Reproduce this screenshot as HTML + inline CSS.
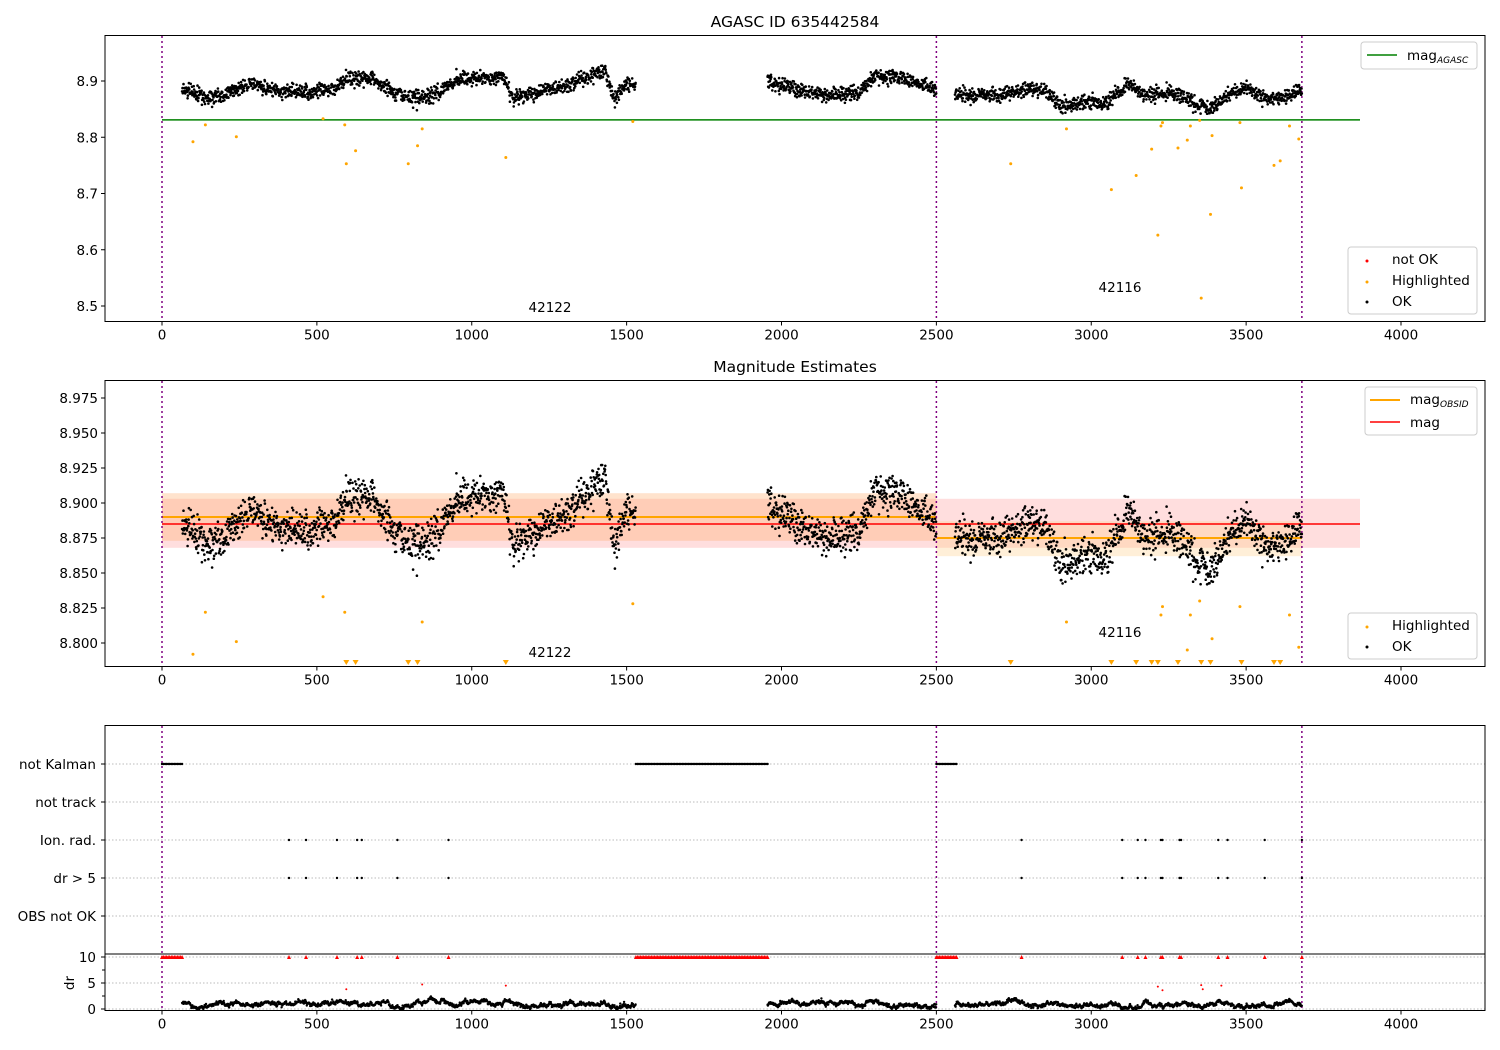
<!DOCTYPE html>
<html><head><meta charset="utf-8"><style>
body{margin:0;background:#fff}
svg{display:block;font-family:"DejaVu Sans","Liberation Sans",sans-serif}
</style></head><body>
<svg id="s" width="1500" height="1050" xmlns="http://www.w3.org/2000/svg"></svg>
<script>
const S=document.getElementById('s');let H='';
const X=t=>162+t*0.309750;
const Y1=m=>81+(8.9-m)*562.5;
const Y2=m=>398+(8.975-m)*1400;
let seed=987654321;function rnd(){seed^=seed<<13;seed^=seed>>>17;seed^=seed<<5;return ((seed>>>0)%100000)/100000;}
function gau(){let s=0;for(let i=0;i<6;i++)s+=rnd();return (s-3)/0.707;}
const knots=[[65,8.885],[150,8.870],[200,8.875],[280,8.895],[350,8.885],[450,8.88],[550,8.885],[600,8.905],[680,8.905],[750,8.875],[850,8.87],[920,8.89],[970,8.905],[1050,8.905],[1100,8.91],[1130,8.87],[1200,8.88],[1300,8.89],[1380,8.91],[1430,8.92],[1460,8.87],[1500,8.895],[1530,8.895],
[1955,8.9],[2050,8.885],[2150,8.875],[2250,8.88],[2300,8.91],[2400,8.905],[2500,8.885],
[2560,8.875],[2700,8.875],[2800,8.885],[2850,8.885],[2900,8.855],[3000,8.865],[3050,8.86],[3120,8.895],[3180,8.875],[3250,8.88],[3300,8.87],[3380,8.85],[3450,8.88],[3500,8.89],[3560,8.87],[3620,8.87],[3680,8.885]];
function base(t){for(let i=0;i<knots.length-1;i++){if(t>=knots[i][0]&&t<=knots[i+1][0]){const f=(t-knots[i][0])/(knots[i+1][0]-knots[i][0]);return knots[i][1]+f*(knots[i+1][1]-knots[i][1]);}}return 8.885;}
const pts=[];
for(const [a,b] of [[65,1530],[1955,2500],[2560,3680]]){for(let t=a;t<=b;t+=1.1){pts.push([t,base(t)+0.0065*gau()]);}}
const hl=[[100,8.792],[140,8.822],[240,8.801],[520,8.833],[590,8.822],[595,8.753],[625,8.776],[795,8.753],[825,8.785],[840,8.815],[1110,8.764],[1520,8.828],[2740,8.753],[2920,8.815],[3065,8.707],[3145,8.732],[3195,8.779],[3215,8.626],[3225,8.82],[3230,8.826],[3280,8.781],[3310,8.795],[3320,8.82],[3355,8.514],[3350,8.83],[3385,8.663],[3390,8.803],[3480,8.826],[3485,8.71],[3590,8.75],[3610,8.758],[3640,8.82],[3670,8.797]];
const txt=(x,y,s,a,sz)=>`<text x="${x}" y="${y}" font-size="${sz||13.5}" text-anchor="${a||'middle'}">${s}</text>`;
function xaxis(yb){const ts=[0,500,1000,1500,2000,2500,3000,3500,4000];for(const t of ts){H+=`<line x1="${X(t)}" y1="${yb}" x2="${X(t)}" y2="${yb+4}" stroke="#000"/>`+txt(X(t),yb+18,t);}}
function vlines(y0,y1){for(const t of [0,2500,3680])H+=`<line x1="${X(t)}" y1="${y0}" x2="${X(t)}" y2="${y1}" stroke="#800080" stroke-width="1.5" stroke-dasharray="2,3"/>`;}
// Panel 1
H+=txt(795,27,'AGASC ID 635442584','middle',15.5);
H+=`<line x1="162" y1="${Y1(8.831)}" x2="1360" y2="${Y1(8.831)}" stroke="green" stroke-width="1.5"/>`;
vlines(36,321);
for(const p of pts)H+=`<circle cx="${X(p[0]).toFixed(1)}" cy="${Y1(p[1]).toFixed(1)}" r="1.3"/>`;
for(const p of hl)H+=`<circle cx="${X(p[0])}" cy="${Y1(p[1])}" r="1.5" fill="orange"/>`;
H+=txt(550,312,'42122')+txt(1120,292,'42116');
for(const m of [8.5,8.6,8.7,8.8,8.9]){const y=Y1(m);H+=`<line x1="101" y1="${y}" x2="105" y2="${y}" stroke="#000"/>`+txt(98,y+5,m.toFixed(1),'end');}
H+=`<rect x="105" y="35.5" width="1380" height="286" fill="none" stroke="#000"/>`;xaxis(321.5);
H+=`<rect x="1361" y="42" width="116" height="27" rx="3" fill="#fff" stroke="#ccc"/><line x1="1367" y1="55" x2="1397" y2="55" stroke="green" stroke-width="1.5"/>`+txt(1407,60,'mag<tspan font-size="9" font-style="italic" dy="3">AGASC</tspan>','start');
H+=`<rect x="1348" y="247" width="129" height="67" rx="3" fill="#fff" stroke="#ccc"/><circle cx="1367" cy="261" r="1.5" fill="red"/><circle cx="1367" cy="282" r="1.5" fill="orange"/><circle cx="1367" cy="302" r="1.5"/>`+txt(1392,264,'not OK','start')+txt(1392,285,'Highlighted','start')+txt(1392,306,'OK','start');
// Panel 2
H+=txt(795,372,'Magnitude Estimates','middle',15.5);
H+=`<rect x="162" y="${Y2(8.903)}" width="${1360-162}" height="${(8.903-8.868)*1400}" fill="#ffdede"/>`;
H+=`<rect x="162" y="${Y2(8.907)}" width="${X(2500)-162}" height="${0.034*1400}" fill="#ffb070" opacity="0.35"/>`;
H+=`<rect x="${X(2500)}" y="${Y2(8.887)}" width="${X(3680)-X(2500)}" height="${0.025*1400}" fill="#ffd090" opacity="0.35"/>`;
H+=`<line x1="162" y1="${Y2(8.885)}" x2="1360" y2="${Y2(8.885)}" stroke="red" stroke-width="1.5"/>`;
H+=`<line x1="162" y1="${Y2(8.89)}" x2="${X(2500)}" y2="${Y2(8.89)}" stroke="orange" stroke-width="2"/><line x1="${X(2500)}" y1="${Y2(8.875)}" x2="${X(3680)}" y2="${Y2(8.875)}" stroke="orange" stroke-width="2"/>`;
vlines(381,666);
for(const p of pts){const y=Y2(p[1]);if(y<381||y>665)continue;H+=`<circle cx="${X(p[0]).toFixed(1)}" cy="${y.toFixed(1)}" r="1.3"/>`;}
for(const p of hl){if(p[1]>8.786)H+=`<circle cx="${X(p[0])}" cy="${Y2(p[1])}" r="1.5" fill="orange"/>`;else{const x=X(p[0]);H+=`<path d="M${x-3},660 L${x+3},660 L${x},665 Z" fill="orange"/>`;}}
H+=txt(550,657,'42122')+txt(1120,637,'42116');
for(let i=0;i<8;i++){const m=8.8+i*0.025;const y=Y2(m);H+=`<line x1="101" y1="${y}" x2="105" y2="${y}" stroke="#000"/>`+txt(98,y+5,m.toFixed(3),'end');}
H+=`<rect x="105" y="380.5" width="1380" height="286" fill="none" stroke="#000"/>`;xaxis(666.5);
H+=`<rect x="1365" y="387" width="112" height="48" rx="3" fill="#fff" stroke="#ccc"/><line x1="1370" y1="400" x2="1400" y2="400" stroke="orange" stroke-width="2"/><line x1="1370" y1="422" x2="1400" y2="422" stroke="red" stroke-width="1.5"/>`+txt(1410,404,'mag<tspan font-size="9" font-style="italic" dy="3">OBSID</tspan>','start')+txt(1410,427,'mag','start');
H+=`<rect x="1348" y="613" width="129" height="46" rx="3" fill="#fff" stroke="#ccc"/><circle cx="1367" cy="627" r="1.5" fill="orange"/><circle cx="1367" cy="647" r="1.5"/>`+txt(1392,630,'Highlighted','start')+txt(1392,651,'OK','start');
// Panel 3
const cats=[['not Kalman',764],['not track',802],['Ion. rad.',840],['dr > 5',878],['OBS not OK',916]];
for(const [c,y] of cats){H+=`<line x1="105" y1="${y}" x2="1485" y2="${y}" stroke="#bbb" stroke-dasharray="1.5,2"/><line x1="101" y1="${y}" x2="105" y2="${y}" stroke="#000"/>`+txt(96,y+5,c,'end');}
const D=d=>1009-d*5.2;
for(const d of [0,5,10]){H+=`<line x1="105" y1="${D(d)}" x2="1485" y2="${D(d)}" stroke="#bbb" stroke-dasharray="1.5,2"/><line x1="101" y1="${D(d)}" x2="105" y2="${D(d)}" stroke="#000"/>`+txt(96,D(d)+5,d,'end');}
for(const d of [2.5,7.5])H+=`<line x1="102" y1="${D(d)}" x2="105" y2="${D(d)}" stroke="#000"/>`;
H+=`<text x="70" y="983" font-size="13.5" text-anchor="middle" transform="rotate(-90 70 983)" dy="4">dr</text>`;
vlines(726,1010);
const nk=[[0,65],[1530,1955],[2500,2565]];
for(const [a,b] of nk)for(let t=a;t<=b;t+=5){H+=`<circle cx="${X(t).toFixed(1)}" cy="764" r="1.2"/><path d="M${(X(t)-2).toFixed(1)},959 L${(X(t)+2).toFixed(1)},959 L${X(t).toFixed(1)},955 Z" fill="red"/>`;}
const ion=[410,465,565,630,645,760,925,2775,3100,3150,3175,3225,3230,3285,3290,3410,3440,3560,3680];
for(const t of ion){const x=X(t);H+=`<circle cx="${x}" cy="840" r="1.2"/><circle cx="${x}" cy="878" r="1.2"/><path d="M${x-2},959 L${x+2},959 L${x},955 Z" fill="red"/>`;}
for(const [t,d] of [[595,3.8],[840,4.7],[1110,4.5],[3215,4.3],[3230,3.6],[3355,4.6],[3360,3.8],[3420,4.5]])H+=`<circle cx="${X(t)}" cy="${D(d)}" r="1" fill="red"/>`;
let dv=1;for(const p of pts){dv+=0.25*gau()*0.5+0.05*(0.9-dv);dv=Math.max(0.1,Math.min(2.3,dv));H+=`<circle cx="${X(p[0]).toFixed(1)}" cy="${D(Math.max(0,dv+0.25*gau()*0.5)).toFixed(1)}" r="1.2"/>`;}
H+=`<line x1="105" y1="954" x2="1485" y2="954" stroke="#000"/>`;
H+=`<rect x="105" y="725.5" width="1380" height="285" fill="none" stroke="#000"/>`;xaxis(1010.5);
S.innerHTML=H;
</script>
</body></html>
